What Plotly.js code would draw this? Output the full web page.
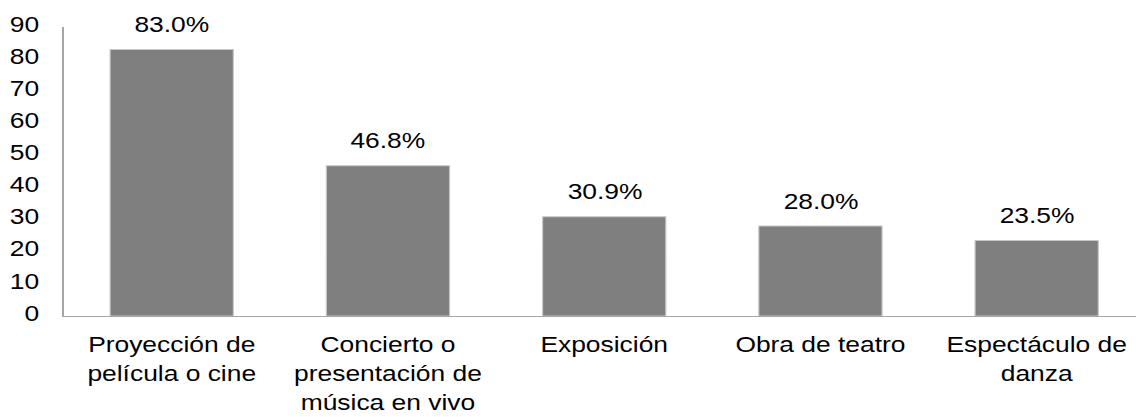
<!DOCTYPE html>
<html>
<head>
<meta charset="utf-8">
<script src="https://cdn.plot.ly/plotly-3.0.1.min.js"></script>
<style>
  html, body { margin: 0; padding: 0; overflow: hidden; background: #fff; }
  #wrap { width: 1136px; height: 417px; overflow: hidden; }
  #chart { width: 954px; height: 417px; transform: scaleX(1.2); transform-origin: 0 0; }
</style>
</head>
<body>
<div id="wrap"><div id="chart"></div></div>
<script>
const categories = [
  "Proyección de<br>película o cine",
  "Concierto o<br>presentación de<br>música en vivo",
  "Exposición",
  "Obra de teatro",
  "Espectáculo de<br>danza"
];
const values = [83.0, 46.8, 30.9, 28.0, 23.5];
const yTicks = [0, 10, 20, 30, 40, 50, 60, 70, 80, 90];

const fontFamily = "Liberation Sans, Arial, sans-serif";

const trace = {
  type: "bar",
  x: categories,
  y: values,
  width: 0.57,
  marker: { color: "#7f7f7f", line: { color: "#c8c8c8", width: 1 } },
  hoverinfo: "none"
};

const annotations = values.map((v, i) => ({
  x: categories[i],
  y: v,
  xref: "x",
  yref: "y",
  text: v.toFixed(1) + "%",
  showarrow: false,
  yanchor: "middle",
  yshift: 25,
  font: { family: fontFamily, size: 22, color: "#000" }
}));

const layout = {
  width: 954,
  height: 417,
  margin: { l: 53, r: 0, t: 27, b: 101, pad: 0 },
  paper_bgcolor: "#fff",
  plot_bgcolor: "#fff",
  showlegend: false,
  font: { family: fontFamily, size: 22, color: "#000" },
  xaxis: {
    type: "category",
    range: [-0.5, 4.5],
    showline: true,
    linecolor: "#a6a6a6",
    linewidth: 1,
    showgrid: false,
    zeroline: false,
    ticks: "",
    automargin: false,
    tickfont: { family: fontFamily, size: 22, color: "#000" },
    ticklabelstandoff: 9
  },
  yaxis: {
    range: [0, 90],
    tickvals: yTicks,
    ticktext: yTicks.map(String),
    showline: true,
    linecolor: "#a6a6a6",
    linewidth: 1,
    showgrid: false,
    zeroline: false,
    ticks: "",
    automargin: false,
    tickfont: { family: fontFamily, size: 22, color: "#000" },
    ticklabelstandoff: 15,
    ticklabelshift: -3
  },
  annotations: annotations
};

Plotly.newPlot("chart", [trace], layout, { displayModeBar: false, staticPlot: true });
</script>
</body>
</html>
